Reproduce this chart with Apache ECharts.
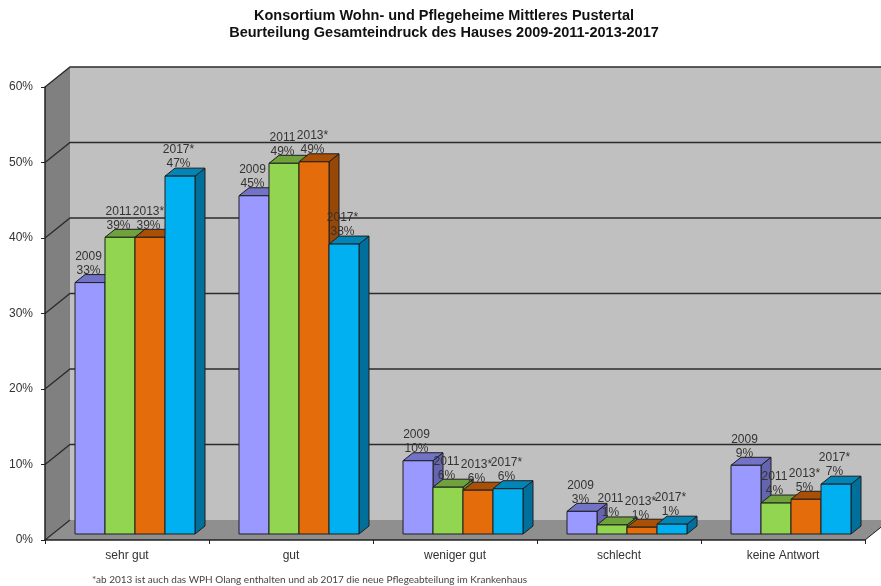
<!DOCTYPE html>
<html>
<head>
<meta charset="utf-8">
<title>Beurteilung Gesamteindruck</title>
<script src="https://cdn.jsdelivr.net/npm/echarts@6/dist/echarts.min.js"></script>
<style>
  html, body { margin: 0; padding: 0; background: #fff; }
  #main { width: 881px; height: 586px; }
</style>
</head>
<body>
<div id="main"></div>
<script>
var categories = ['sehr gut', 'gut', 'weniger gut', 'schlecht', 'keine Antwort']
var years = ['2009', '2011', '2013*', '2017*']
var values2009 = [33.3, 44.8, 9.7, 3.0, 9.1]
var values2011 = [39.3, 49.1, 6.2, 1.2, 4.1]
var values2013 = [39.3, 49.3, 5.8, 0.9, 4.6]
var values2017 = [47.4, 38.4, 6.0, 1.3, 6.6]
var yTicks = [0, 10, 20, 30, 40, 50, 60]

var allValues = [values2009, values2011, values2013, values2017]
// front, top, side
var barColors = [
  ['#9999ff', '#7272c6', '#6464b0'],
  ['#92d550', '#6fa23c', '#5f8c32'],
  ['#e46c0a', '#a94f06', '#974706'],
  ['#00b0f0', '#0085b6', '#006f9c']
]

var WALL_DX = 25
var WALL_DY = 20
var BAR_DX = 8
var BAR_DY = 6
var DEPTH_X = 10
var DEPTH_Y = 8
var BAR_WIDTH = 30
var LINE = '#1e1e1e'

function poly (points, fill) {
  return {
    type: 'polygon',
    shape: {points: points},
    style: {fill: fill, stroke: LINE, lineWidth: 1}
  }
}

// Rueckwand, Seitenwand und Boden
function renderWalls (params, api) {
  var cs = params.coordSys
  var top = api.coord([0, 60])[1]
  var bottom = api.coord([0, 0])[1]
  var left = cs.x
  var right = cs.x + cs.width
  var plain = function (points, fill) {
    return {type: 'polygon', shape: {points: points}, style: {fill: fill}}
  }
  return {
    type: 'group',
    children: [
      plain([[left + WALL_DX, top - WALL_DY], [right + WALL_DX, top - WALL_DY], [right + WALL_DX, bottom - WALL_DY], [left + WALL_DX, bottom - WALL_DY]], '#c0c0c0'),
      plain([[left, top], [left + WALL_DX, top - WALL_DY], [left + WALL_DX, bottom - WALL_DY], [left, bottom]], '#808080'),
      plain([[left, bottom], [right, bottom], [right + WALL_DX, bottom - WALL_DY], [left + WALL_DX, bottom - WALL_DY]], '#8f8f8f'),
      {
        type: 'line',
        shape: {x1: right, y1: bottom, x2: right + WALL_DX, y2: bottom - WALL_DY},
        style: {stroke: LINE, lineWidth: 1}
      }
    ]
  }
}

// Gitternetzlinien laufen ueber Seitenwand und Rueckwand
function renderGrid (params, api) {
  var cs = params.coordSys
  var v = api.value(0)
  var y = api.coord([0, v])[1]
  var points = [[cs.x, y], [cs.x + WALL_DX, y - WALL_DY]]
  if (v !== 0) points.push([cs.x + cs.width + WALL_DX, y - WALL_DY])
  return {
    type: 'polyline',
    shape: {points: points},
    style: {fill: null, stroke: '#2b2b2b', lineWidth: 1.3}
  }
}

function makeBarRenderer (idx) {
  return function (params, api) {
    var cat = api.value(0)
    var val = api.value(1)
    var center = api.coord([cat, 0])
    var topY = api.coord([cat, val])[1] - BAR_DY
    var baseY = center[1] - BAR_DY
    var x0 = center[0] + BAR_DX + (idx - 2) * BAR_WIDTH
    var x1 = x0 + BAR_WIDTH
    var c = barColors[idx]
    return {
      type: 'group',
      children: [
        poly([[x1, topY], [x1 + DEPTH_X, topY - DEPTH_Y], [x1 + DEPTH_X, baseY - DEPTH_Y], [x1, baseY]], c[2]),
        poly([[x0, topY], [x0 + DEPTH_X, topY - DEPTH_Y], [x1 + DEPTH_X, topY - DEPTH_Y], [x1, topY]], c[1]),
        poly([[x0, topY], [x1, topY], [x1, baseY], [x0, baseY]], c[0]),
        {
          type: 'text',
          z2: 100,
          style: {
            text: years[idx] + '\n' + Math.round(val) + '%',
            x: x0 + BAR_WIDTH / 2 - 1.5,
            y: topY - 5,
            align: 'center',
            verticalAlign: 'bottom',
            fill: '#333',
            font: '12px "Liberation Sans"',
            lineHeight: 14
          }
        }
      ]
    }
  }
}

var series = [
  {type: 'custom', silent: true, renderItem: renderWalls, data: [[0]], z: 1},
  {type: 'custom', silent: true, renderItem: renderGrid, data: yTicks.map(function (v) { return [v] }), encode: {y: 0}, z: 1}
]
allValues.forEach(function (vals, idx) {
  series.push({
    type: 'custom',
    name: years[idx],
    silent: true,
    renderItem: makeBarRenderer(idx),
    encode: {x: 0, y: 1},
    data: vals.map(function (v, i) { return [i, v] }),
    z: 3
  })
})

var myChart = echarts.init(document.getElementById('main'))
myChart.setOption({
  animation: false,
  backgroundColor: '#fff',
  textStyle: {fontFamily: '"Liberation Sans"'},
  title: [
    {
      text: 'Konsortium Wohn- und Pflegeheime Mittleres Pustertal\nBeurteilung Gesamteindruck des Hauses 2009-2011-2013-2017',
      left: 439,
      top: 2,
      textAlign: 'center',
      textStyle: {fontFamily: '"Liberation Sans"', fontSize: 14.5, fontWeight: 'bold', color: '#111', lineHeight: 17.5}
    },
    {
      text: '*ab 2013 ist auch das WPH Olang enthalten und ab 2017 die neue Pflegeabteilung im Krankenhaus',
      left: 92,
      top: 575,
      padding: 0,
      textStyle: {fontFamily: 'Lato', fontSize: 10, fontWeight: 'normal', color: '#444'}
    }
  ],
  grid: {left: 45, right: 16, top: 87, bottom: 46, containLabel: false},
  xAxis: {
    type: 'category',
    data: categories,
    z: 5,
    axisLine: {lineStyle: {color: '#222', width: 1.5}},
    axisTick: {show: true, length: 4, lineStyle: {color: '#222'}},
    axisLabel: {color: '#333', fontSize: 12, margin: 10, interval: 0, fontFamily: '"Liberation Sans"'},
    splitLine: {show: false}
  },
  yAxis: {
    type: 'value',
    min: 0,
    max: 60,
    interval: 10,
    z: 5,
    axisLine: {show: true, lineStyle: {color: '#222', width: 1.5}},
    axisTick: {show: true, length: 4, lineStyle: {color: '#222'}},
    axisLabel: {color: '#333', fontSize: 12, margin: 12, formatter: '{value}%', fontFamily: '"Liberation Sans"'},
    splitLine: {show: false}
  },
  series: series
})
</script>
</body>
</html>
